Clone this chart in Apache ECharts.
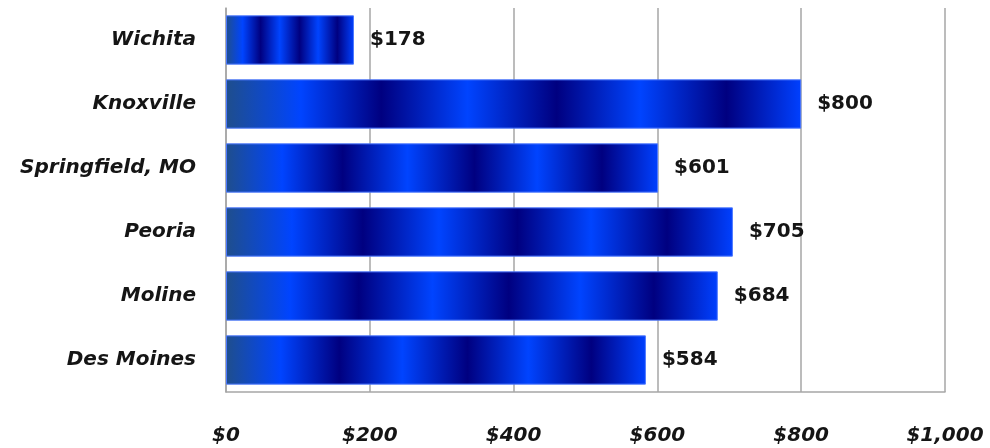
<!DOCTYPE html>
<html>
<head>
<meta charset="utf-8">
<script src="https://cdn.jsdelivr.net/npm/echarts@6/dist/echarts.min.js"></script>
<style>
html,body{margin:0;padding:0;background:#fff;}
#chart{width:990px;height:448px;}
</style>
</head>
<body>
<div id="chart"></div>
<script>
var categories = ["Wichita", "Knoxville", "Springfield, MO", "Peoria", "Moline", "Des Moines"];
var values = [178, 800, 601, 705, 684, 584];
var tickValues = [0, 200, 400, 600, 800, 1000];

function money(v) {
  return '$' + String(v).replace(/\B(?=(\d{3})+(?!\d))/g, ',');
}

var barGradient = {
  type: 'linear', x: 0, y: 0, x2: 1, y2: 0,
  colorStops: [
    {offset: 0, color: '#1f4e8c'},
    {offset: 0.13, color: '#0044ff'},
    {offset: 0.27, color: '#000080'},
    {offset: 0.42, color: '#0044ff'},
    {offset: 0.575, color: '#000080'},
    {offset: 0.72, color: '#0044ff'},
    {offset: 0.87, color: '#000080'},
    {offset: 1, color: '#0040ff'}
  ]
};

var chart = echarts.init(document.getElementById('chart'));
chart.setOption({
  animation: false,
  grid: {left: 226, right: 45, top: 8, bottom: 56, containLabel: false},
  xAxis: {
    type: 'value', min: tickValues[0], max: tickValues[tickValues.length - 1], interval: 200,
    axisLine: {show: true, lineStyle: {color: '#a6a6a6', width: 1.5}},
    axisTick: {show: false},
    splitLine: {show: true, lineStyle: {color: '#a6a6a6', width: 1.5}},
    axisLabel: {
      margin: 34,
      fontFamily: 'DejaVu Sans', fontSize: 20, fontWeight: 'bold', fontStyle: 'italic', color: '#151515',
      formatter: function (v) { return money(v); }
    }
  },
  yAxis: {
    type: 'category', data: categories, inverse: true,
    axisLine: {show: true, lineStyle: {color: '#a6a6a6', width: 1.5}},
    axisTick: {show: false},
    axisLabel: {
      margin: 30,
      fontFamily: 'DejaVu Sans', fontSize: 20, fontWeight: 'bold', fontStyle: 'italic', color: '#151515'
    }
  },
  series: [{
    type: 'bar',
    data: values,
    barCategoryGap: '23%',
    itemStyle: {color: barGradient, borderColor: '#4d79ff', borderWidth: 1},
    label: {
      show: true, position: 'right', distance: 16,
      fontFamily: 'DejaVu Sans', fontSize: 20, fontWeight: 'bold', color: '#151515',
      formatter: function (p) { return money(p.value); }
    }
  }]
});
</script>
</body>
</html>
